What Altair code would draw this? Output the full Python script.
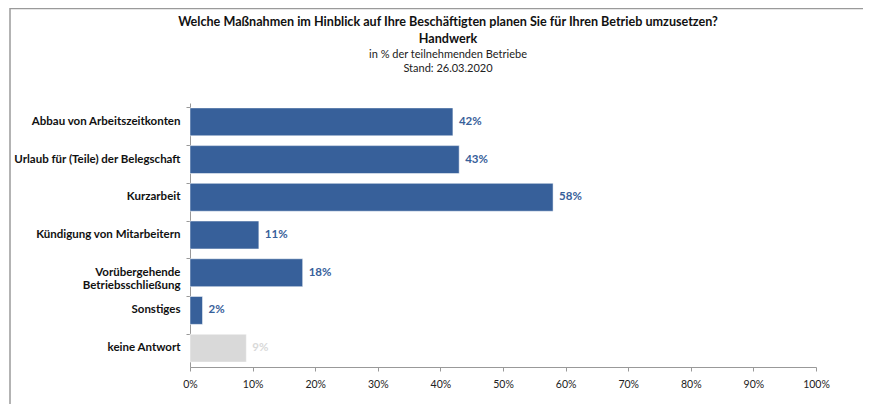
import altair as alt
import pandas as pd

categories = [
    "Abbau von Arbeitszeitkonten",
    "Urlaub für (Teile) der Belegschaft",
    "Kurzarbeit",
    "Kündigung von Mitarbeitern",
    "Vorübergehende Betriebsschließung",
    "Sonstiges",
    "keine Antwort",
]
values = [42, 43, 58, 11, 18, 2, 9]
kinds = ["main", "main", "main", "main", "main", "other", "none"]
x_ticks = [0, 10, 20, 30, 40, 50, 60, 70, 80, 90, 100]
title_lines = [
    "Welche Maßnahmen im Hinblick auf Ihre Beschäftigten planen Sie für Ihren Betrieb umzusetzen?",
    "Handwerk",
]
subtitle_lines = ["in % der teilnehmenden Betriebe", "Stand:  26.03.2020"]

df = pd.DataFrame({"cat": categories, "val": values, "kind": kinds})
df["lab"] = df["val"].astype(str) + "%"
one = pd.DataFrame({"k": [0]})

FONT = "Lato"
BAR_BLUE = "#37609A"
LAB_BLUE = "#2F5184"

y_enc = alt.Y(
    "cat:N",
    sort=None,
    title=None,
    scale=alt.Scale(paddingInner=0.26, paddingOuter=0.13),
    axis=alt.Axis(
        bandPosition=0,
        tickSize=4,
        tickColor="#999999",
        domainColor="#999999",
        labelFont=FONT,
        labelFontSize=11.5,
        labelFontWeight="bold",
        labelColor="#111111",
        labelPadding=6,
        labelLimit=200,
        labelExpr="datum.label == 'Vorübergehende Betriebsschließung' ? ['Vorübergehende', 'Betriebsschließung'] : datum.label",
    ),
)

x_enc = alt.X(
    "val:Q",
    title=None,
    scale=alt.Scale(domain=[0, 100], nice=False),
    axis=alt.Axis(
        values=x_ticks,
        grid=False,
        tickSize=4,
        tickColor="#999999",
        domainColor="#999999",
        labelFont=FONT,
        labelFontSize=10.5,
        labelColor="#222222",
        labelPadding=8,
        labelExpr="datum.value + '%'",
        labelFlush=False,
    ),
)

bars = alt.Chart(df).mark_bar(stroke="white", strokeWidth=0.5).encode(
    x=x_enc,
    y=y_enc,
    color=alt.Color(
        "kind:N",
        scale=alt.Scale(domain=["main", "other", "none"], range=[BAR_BLUE, BAR_BLUE, "#D9D9D9"]),
        legend=None,
    ),
)

labels = alt.Chart(df).mark_text(
    align="left", baseline="middle", dx=6, font=FONT, fontSize=11.5, fontWeight="bold"
).encode(
    x="val:Q",
    y=alt.Y("cat:N", sort=None),
    text="lab:N",
    color=alt.Color(
        "kind:N",
        scale=alt.Scale(domain=["main", "other", "none"], range=[LAB_BLUE, "#111111", "#A6A6A6"]),
        legend=None,
    ),
)

frame_top = alt.Chart(one).mark_rule(color="#9A9A9A", strokeWidth=1.5).encode(
    x=alt.value(-180), x2=alt.value(700), y=alt.value(-94.5)
)
frame_left = alt.Chart(one).mark_rule(color="#9A9A9A", strokeWidth=1.5).encode(
    x=alt.value(-180), y=alt.value(-95), y2=alt.value(330)
)

def title_text(txt, ypos, bold, size):
    return alt.Chart(one).mark_text(
        align="center", baseline="middle", font=FONT, fontSize=size,
        fontWeight="bold" if bold else "normal", color="#111111" if bold else "#222222",
    ).encode(x=alt.value(258), y=alt.value(ypos), text=alt.value(txt))

t1 = title_text(title_lines[0], -81, True, 12.6)
t2 = title_text(title_lines[1], -64, True, 12.6)
t3 = title_text(subtitle_lines[0], -48, False, 11)
t4 = title_text(subtitle_lines[1], -34, False, 11)

chart = (
    alt.layer(frame_top, frame_left, bars, labels, t1, t2, t3, t4)
    .properties(
        width=626,
        height=264,
        padding={"left": 182, "top": 95, "right": 47, "bottom": 37},
        autosize=alt.AutoSizeParams(type="none"),
        background="white",
    )
    .configure_view(strokeWidth=0, stroke="transparent")
)

chart.save("out.html", embed_options={"renderer": "svg", "actions": False})
